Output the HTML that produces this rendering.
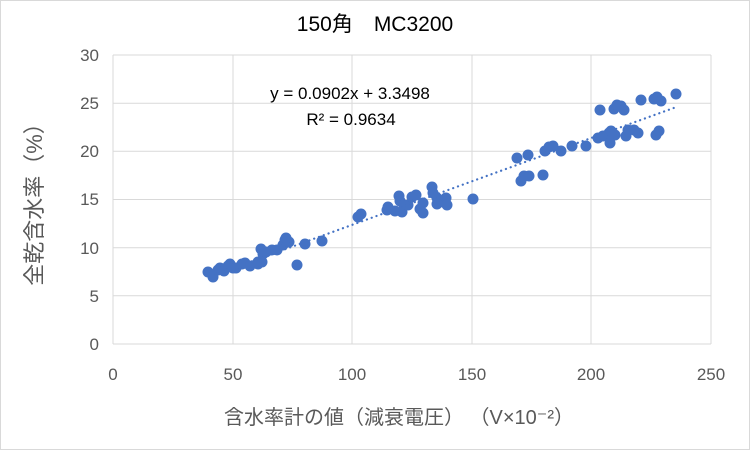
<!DOCTYPE html><html><head><meta charset="utf-8"><style>body{margin:0;background:#fff}</style></head><body>
<svg width="750" height="450" xmlns="http://www.w3.org/2000/svg" font-family="Liberation Sans, Noto Sans CJK JP, sans-serif">
<rect x="0.5" y="0.5" width="749" height="449" fill="#fff" stroke="#d9d9d9"/>
<g stroke="#d9d9d9" stroke-width="1">
<line x1="113" y1="55" x2="711" y2="55"/><line x1="113" y1="103.2" x2="711" y2="103.2"/><line x1="113" y1="151.3" x2="711" y2="151.3"/><line x1="113" y1="199.5" x2="711" y2="199.5"/><line x1="113" y1="247.7" x2="711" y2="247.7"/><line x1="113" y1="295.8" x2="711" y2="295.8"/><line x1="113" y1="344" x2="711" y2="344"/>
<line x1="113" y1="55" x2="113" y2="344"/><line x1="233" y1="55" x2="233" y2="344"/><line x1="352" y1="55" x2="352" y2="344"/><line x1="472" y1="55" x2="472" y2="344"/><line x1="591" y1="55" x2="591" y2="344"/><line x1="711" y1="55" x2="711" y2="344"/>
</g>
<g fill="#4472c4">
<circle cx="208" cy="272" r="5.5"/><circle cx="213" cy="277" r="5.5"/><circle cx="218" cy="270" r="5.5"/><circle cx="220" cy="268" r="5.5"/><circle cx="224" cy="271" r="5.5"/><circle cx="228" cy="266" r="5.5"/><circle cx="230" cy="264" r="5.5"/><circle cx="233" cy="268" r="5.5"/><circle cx="236" cy="268" r="5.5"/><circle cx="242" cy="264" r="5.5"/><circle cx="245" cy="263" r="5.5"/><circle cx="250" cy="266" r="5.5"/><circle cx="258" cy="264" r="5.5"/><circle cx="258" cy="262" r="5.5"/><circle cx="262" cy="262" r="5.5"/><circle cx="261" cy="249" r="5.5"/><circle cx="263" cy="254" r="5.5"/><circle cx="266" cy="252" r="5.5"/><circle cx="272" cy="250" r="5.5"/><circle cx="277" cy="250" r="5.5"/><circle cx="283" cy="245" r="5.5"/><circle cx="285" cy="240" r="5.5"/><circle cx="289" cy="242" r="5.5"/><circle cx="286" cy="238" r="5.5"/><circle cx="297" cy="265" r="5.5"/><circle cx="305" cy="244" r="5.5"/><circle cx="322" cy="241" r="5.5"/>
<circle cx="358" cy="217" r="5.5"/><circle cx="361" cy="214" r="5.5"/><circle cx="388" cy="207" r="5.5"/><circle cx="387" cy="210" r="5.5"/><circle cx="399" cy="196" r="5.5"/><circle cx="400" cy="201" r="5.5"/><circle cx="395" cy="211" r="5.5"/><circle cx="404" cy="205" r="5.5"/><circle cx="402" cy="212" r="5.5"/><circle cx="408" cy="205" r="5.5"/><circle cx="412" cy="197" r="5.5"/><circle cx="416" cy="195" r="5.5"/><circle cx="420" cy="209" r="5.5"/><circle cx="423" cy="203" r="5.5"/><circle cx="423" cy="213" r="5.5"/><circle cx="432" cy="187" r="5.5"/><circle cx="433" cy="193" r="5.5"/><circle cx="437" cy="198" r="5.5"/><circle cx="440" cy="202" r="5.5"/><circle cx="446" cy="198" r="5.5"/><circle cx="437" cy="204" r="5.5"/><circle cx="447" cy="205" r="5.5"/><circle cx="473" cy="199" r="5.5"/>
<circle cx="517" cy="158" r="5.5"/><circle cx="524" cy="176" r="5.5"/><circle cx="528" cy="155" r="5.5"/><circle cx="521" cy="181" r="5.5"/><circle cx="529" cy="176" r="5.5"/><circle cx="543" cy="175" r="5.5"/><circle cx="545" cy="151" r="5.5"/><circle cx="549" cy="147" r="5.5"/><circle cx="553" cy="146" r="5.5"/><circle cx="561" cy="151" r="5.5"/><circle cx="572" cy="146" r="5.5"/><circle cx="586" cy="146" r="5.5"/>
<circle cx="598" cy="138" r="5.5"/><circle cx="609" cy="133" r="5.5"/><circle cx="603" cy="136" r="5.5"/><circle cx="611" cy="131" r="5.5"/><circle cx="615" cy="135" r="5.5"/><circle cx="610" cy="143" r="5.5"/><circle cx="626" cy="136" r="5.5"/><circle cx="628" cy="130" r="5.5"/><circle cx="634" cy="130" r="5.5"/><circle cx="638" cy="133" r="5.5"/><circle cx="656" cy="135" r="5.5"/><circle cx="659" cy="131" r="5.5"/>
<circle cx="600" cy="110" r="5.5"/><circle cx="614" cy="109" r="5.5"/><circle cx="617" cy="105" r="5.5"/><circle cx="621" cy="106" r="5.5"/><circle cx="624" cy="110" r="5.5"/><circle cx="641" cy="100" r="5.5"/><circle cx="654" cy="99" r="5.5"/><circle cx="657" cy="97" r="5.5"/><circle cx="661" cy="101" r="5.5"/><circle cx="676" cy="94" r="5.5"/>
</g>
<line x1="208.7" y1="277" x2="675" y2="107.5" stroke="#4472c4" stroke-width="2.2" stroke-dasharray="0.1 5" stroke-linecap="round"/>
<text x="375" y="31" font-size="21" text-anchor="middle" fill="#000">150角　MC3200</text>
<text x="350" y="99" font-size="17" text-anchor="middle" fill="#000">y = 0.0902x + 3.3498</text>
<text x="351" y="125" font-size="17" text-anchor="middle" fill="#000">R² = 0.9634</text>
<g font-size="17" fill="#595959" text-anchor="end">
<text x="99" y="61">30</text><text x="99" y="109">25</text><text x="99" y="157">20</text><text x="99" y="205">15</text><text x="99" y="254">10</text><text x="99" y="302">5</text><text x="99" y="350">0</text></g>
<g font-size="17" fill="#595959" text-anchor="middle">
<text x="113" y="380">0</text><text x="233" y="380">50</text><text x="352" y="380">100</text><text x="472" y="380">150</text><text x="591" y="380">200</text><text x="711" y="380">250</text></g>
<text x="399" y="424" font-size="20" text-anchor="middle" fill="#595959">含水率計の値（減衰電圧） （V×10⁻²）</text>
<text transform="translate(42,199) rotate(-90)" font-size="22" text-anchor="middle" fill="#595959">全乾含水率（%）</text>
</svg></body></html>
